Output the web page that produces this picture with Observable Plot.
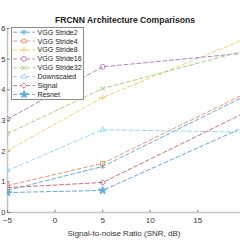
<!DOCTYPE html>
<html><head><meta charset="utf-8">
<script src="https://cdn.jsdelivr.net/npm/d3@7"></script>
<script src="https://cdn.jsdelivr.net/npm/@observablehq/plot@0.6"></script>
<style>
body{margin:0;background:#fff;}
#wrap{position:relative;width:240px;height:247px;overflow:hidden;font-family:"Liberation Sans",Arial,sans-serif;}
#title{position:absolute;left:0;width:250px;top:15px;text-align:center;font-weight:bold;font-size:8.6px;color:#222;line-height:10px;}
#legend{position:absolute;left:0;top:0;}
</style></head>
<body><div id="wrap"><div id="chart"></div><div id="title">FRCNN Architecture Comparisons</div><svg id="legend" width="240" height="247"></svg></div>
<script>
const snr = [-5, 5, 20];
const names = ["VGG Stride2","VGG Stride4","VGG Stride8","VGG Stride16","VGG Stride32","Downscaled","Signal","Resnet"];
const stride2    = [0.72, 1.50, 3.80];
const stride4    = [0.88, 1.60, 3.88];
const stride8    = [2.02, 3.75, 5.66];
const stride16   = [3.05, 4.75, 5.20];
const stride32   = [2.57, 4.04, 5.28];
const downscaled = [1.37, 2.70, 2.62];
const signal     = [0.81, 0.98, 3.26];
const resnet     = [0.65, 0.72, 2.80];
const xTicks = [-5, 0, 5, 10, 15];
const yTicks = [0, 1, 2, 3, 4, 5, 6];
const colors = ["#0072BD","#D95319","#EDB120","#7E2F8E","#77AC30","#4DBEEE","#A2142F","#0072BD"];
const symbols = ["asterisk","square2","plus","circle","times","triangle2","diamond2","star"];
const allValues = [stride2, stride4, stride8, stride16, stride32, downscaled, signal, resnet];

const rows = names.flatMap((n, k) => snr.map((x, i) => ({name: n, x, y: allValues[k][i]})));
const light = c => d3.interpolateRgb(c, "#fff")(0.4);
const lcolors = colors.map(light);

const chart = Plot.plot({
  width: 240, height: 247,
  marginLeft: 7, marginRight: 0, marginTop: 28, marginBottom: 35,
  style: {fontFamily: "Liberation Sans, Arial, sans-serif", overflow: "visible", background: "transparent"},
  x: {domain: [-5, 19.5]},
  y: {domain: [0, 6], axis: null},
  color: {domain: names, range: lcolors},
  symbol: {domain: names, range: symbols},
  marks: [
    Plot.ruleY([0], {stroke: "#c4c4c4", strokeWidth: 1.5}),
    Plot.ruleX([-5], {stroke: "#c4c4c4", strokeWidth: 1.5}),
    Plot.ruleX(xTicks, {y1: 0, y2: 0.08, stroke: "#666", strokeWidth: 0.8}),
    Plot.ruleY(yTicks, {x1: -5, x2: -4.7, stroke: "#666", strokeWidth: 0.8}),
    Plot.axisX({ticks: xTicks, tickSize: 0, tickPadding: 5, fontSize: 8, fill: "#333",
      label: "Signal-to-noise Ratio (SNR, dB)", labelAnchor: "center", labelArrow: "none", labelOffset: 23}),
    Plot.text(yTicks, {x: -5, y: d => d, text: d => String(d), dx: -6.3, textAnchor: "start", fontSize: 7.5, fill: "#333"}),
    Plot.line(rows, {x: "x", y: "y", z: "name", stroke: "name", strokeWidth: 1, strokeDasharray: "4,2.5", clip: true}),
    Plot.dot(rows.filter(d => d.name !== "Resnet"), {x: "x", y: "y", symbol: "name", stroke: "name", fill: "none", r: 2.5, strokeWidth: 1, clip: true}),
    Plot.dot(rows.filter(d => d.name === "Resnet"), {x: "x", y: "y", symbol: "name", stroke: "name", fill: "name", r: 2.5, strokeWidth: 1, clip: true})
  ]
});
document.getElementById("chart").appendChild(chart);

// legend overlay
const lg = d3.select("#legend");
const bx = 11, by = 27, bw = 72, bh = 72, rowH = 8.9, y0 = 32.2;
lg.append("rect").attr("x", bx + 0.5).attr("y", by + 0.5).attr("width", bw).attr("height", bh)
  .attr("fill", "#fff").attr("stroke", "#8a8a8a").attr("stroke-width", 1);
const symMap = {asterisk: d3.symbolAsterisk, square2: d3.symbolSquare2, plus: d3.symbolPlus, circle: d3.symbolCircle,
  times: d3.symbolTimes, triangle2: d3.symbolTriangle2, diamond2: d3.symbolDiamond2, star: d3.symbolStar};
names.forEach((n, k) => {
  const y = y0 + k * rowH;
  const g = lg.append("g");
  g.append("line").attr("x1", 13).attr("x2", 35).attr("y1", y).attr("y2", y)
    .attr("stroke", lcolors[k]).attr("stroke-width", 1).attr("stroke-dasharray", "4,2.5");
  g.append("path").attr("d", d3.symbol(symMap[symbols[k]], 18)())
    .attr("transform", `translate(24,${y})`)
    .attr("fill", n === "Resnet" ? lcolors[k] : "#fff").attr("stroke", lcolors[k]).attr("stroke-width", 1);
  g.append("text").attr("x", 37.5).attr("y", y).attr("dy", "0.35em").attr("font-size", 7.1)
    .attr("font-family", "Liberation Sans, Arial, sans-serif").attr("fill", "#222").text(n);
});
</script></body></html>
